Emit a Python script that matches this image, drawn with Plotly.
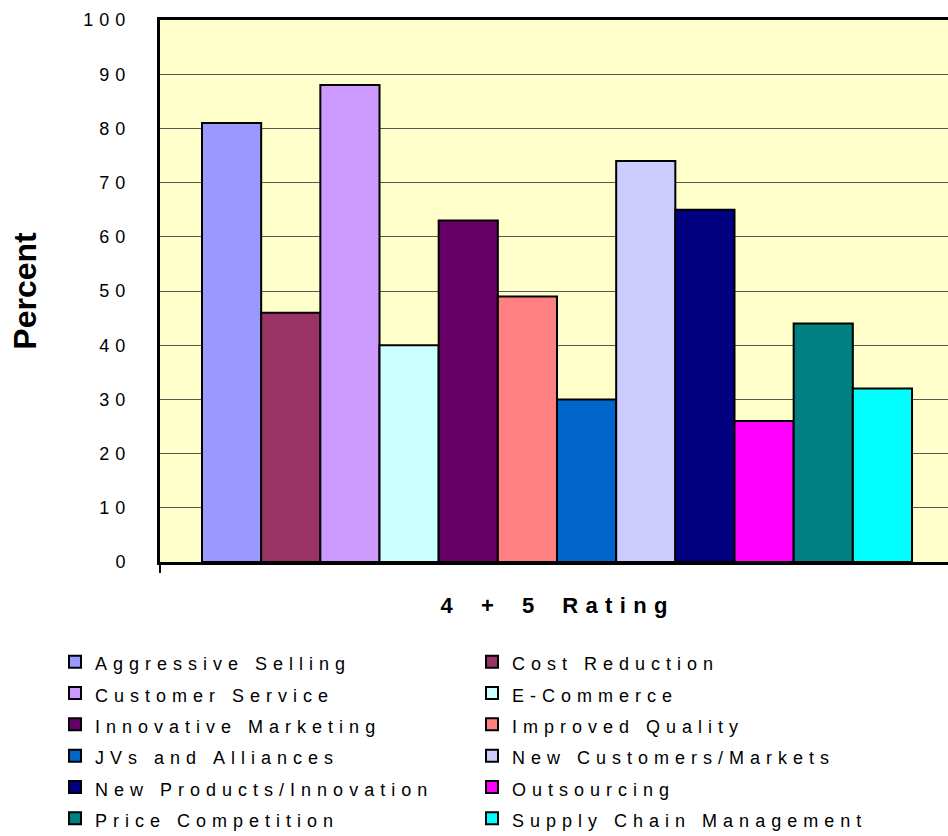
import plotly.graph_objects as go

# Survey results: share of respondents giving a 4 or 5 rating, by strategy
strategies = [
    "Aggressive Selling", "Cost Reduction", "Customer Service", "E-Commerce",
    "Innovative Marketing", "Improved Quality", "JVs and Alliances",
    "New Customers/Markets", "New Products/Innovation", "Outsourcing",
    "Price Competition", "Supply Chain Management",
]
percents = [81, 46, 88, 40, 63, 49, 30, 74, 65, 26, 44, 32]
bar_colors = [
    "#9999FF", "#993366", "#CC99FF", "#CCFFFF", "#660066", "#FF8080",
    "#0066CC", "#CCCCFF", "#000080", "#FF00FF", "#008080", "#00FFFF",
]
category = "4 + 5 Rating"
y_ticks = list(range(0, 101, 10))

FONT = "Liberation Sans, Arial, sans-serif"
GAP = "\u2004"          # letter gap (three-per-em space)
WORD_GAP = "\u2004\u00a0\u2004"


def spaced(text, gap=GAP, word_gap=WORD_GAP):
    """Render text with wide letter spacing."""
    return word_gap.join(gap.join(w) for w in text.split(" "))


fig = go.Figure()
for name, val, col in zip(strategies, percents, bar_colors):
    label = "<span style='font-size:18px'>" + spaced(name) + "</span>"
    fig.add_trace(go.Bar(
        x=[category], y=[val], name=label,
        marker=dict(color=col, line=dict(color="black", width=2)),
    ))

W, H = 948, 836
L, T, B = 160, 20, 274
plot_w = W - L
plot_h = H - T - B

fig.update_layout(
    width=W, height=H,
    margin=dict(l=L, r=0, t=T, b=B, pad=0, autoexpand=False),
    paper_bgcolor="white",
    plot_bgcolor="#FFFFCC",
    barmode="group", bargap=0.1058, bargroupgap=0,
    font=dict(family=FONT, color="black", size=18),
    showlegend=True,
    legend=dict(
        orientation="h",
        x=(55 - L) / plot_w, xanchor="left",
        y=-(641 - (T + plot_h)) / plot_h, yanchor="top",
        entrywidth=372, entrywidthmode="pixels",
        font=dict(family=FONT, size=21.8),
        bgcolor="rgba(0,0,0,0)",
        traceorder="normal",
    ),
    xaxis=dict(
        type="category",
        range=[-0.5, (W - 557) / 794],
        showticklabels=False,
        tickson="boundaries",
        ticks="outside", ticklen=8, tickwidth=1.5, tickcolor="black",
        showgrid=False,
        showline=True, linecolor="black", linewidth=2.5, mirror=True,
        title=dict(text="<b>" + spaced(category, GAP, "\u2002\u00a0\u2002") + "</b>",
                   font=dict(family=FONT, size=22), standoff=34),
    ),
    yaxis=dict(
        range=[0, 100],
        tickvals=y_ticks,
        ticktext=[GAP.join(str(v)) for v in y_ticks],
        ticks="", ticklabelstandoff=28,
        tickfont=dict(family=FONT, size=18),
        showgrid=True, gridcolor="#555555", gridwidth=1,
        zeroline=False,
        showline=True, linecolor="black", linewidth=3, mirror=False,
        title=dict(text="<b>Percent</b>",
                   font=dict(family=FONT, size=32), standoff=38),
    ),
)

fig.write_html("out.html")
